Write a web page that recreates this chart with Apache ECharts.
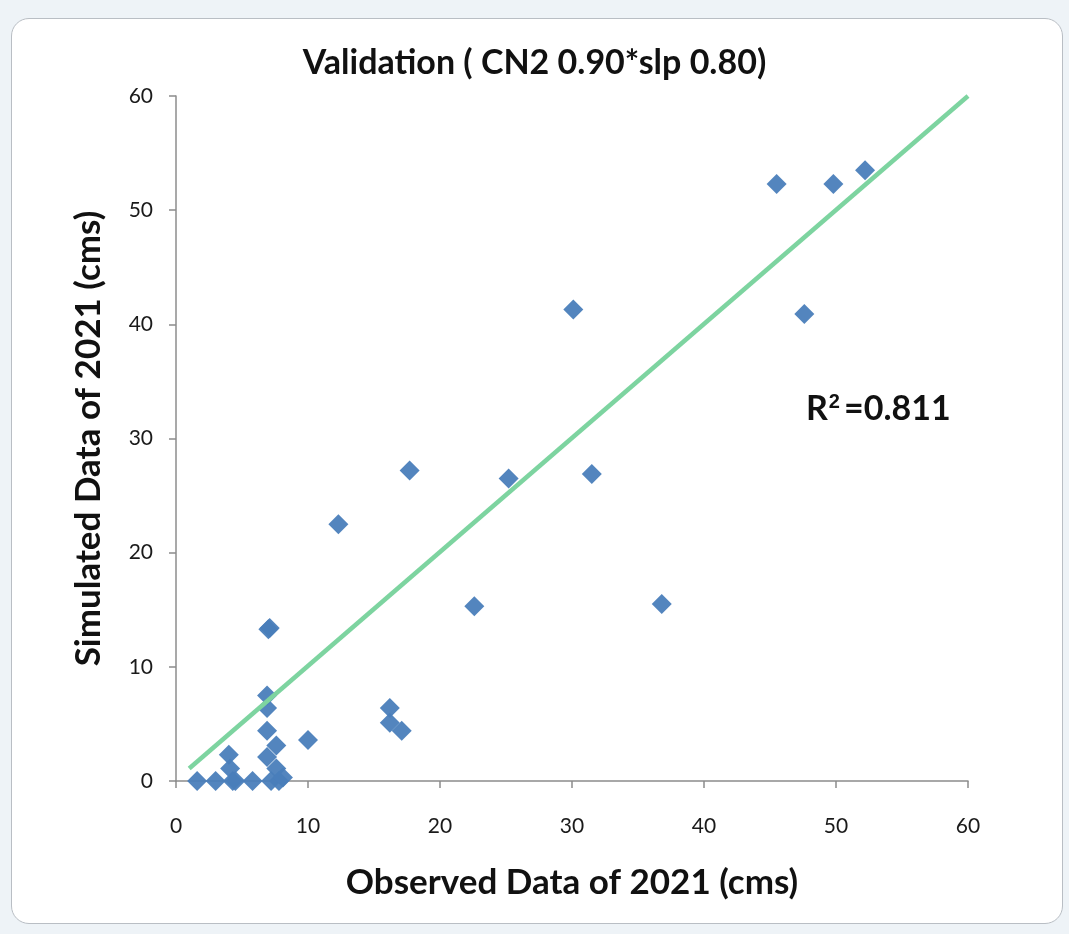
<!DOCTYPE html>
<html lang="en">
<head>
<meta charset="utf-8">
<script src="https://cdn.jsdelivr.net/npm/echarts@6/dist/echarts.min.js"></script>
<style type="text/css">
	html, body {
		margin: 0;
		padding: 0;
		background: #eef3f7;
	}
	/* rounded chart frame like the spreadsheet chart object */
	.frame {
		position: absolute;
		left: 11px;
		top: 18px;
		width: 1050px;
		height: 904px;
		background: #fff;
		border: 1px solid #b9bec4;
		border-radius: 18px;
	}
	#chart {
		position: absolute;
		left: 0;
		top: 0;
		width: 1069px;
		height: 934px;
	}
</style>
</head>
<body>
	<div class="frame"></div>
	<div id="chart"></div>

<script type="text/javascript">
	// observed (x) and simulated (y) values, cms
	var observed = [1.6, 3.0, 4.0, 4.1, 4.5, 4.3, 5.8, 6.9, 6.9, 6.9, 7.6, 6.9, 7.6, 7.2, 7.8, 8.1,
		7.1, 7.0, 10.0, 12.3, 16.2, 16.2, 17.1, 17.7, 22.6, 25.2, 30.1, 31.5, 36.8, 45.5, 47.6, 49.8, 52.2];
	var simulated = [0, 0, 2.3, 1.1, 0, 0, 0, 7.5, 6.4, 4.4, 3.1, 2.1, 1.1, 0, 0, 0.3,
		13.4, 13.3, 3.6, 22.5, 6.4, 5.1, 4.4, 27.2, 15.3, 26.5, 41.3, 26.9, 15.5, 52.3, 40.9, 52.3, 53.5];
	// trend line end points
	var trendX = [1.0, 60];
	var trendY = [1.1, 60];
	var rSquared = '0.811';

	var points = observed.map(function (x, i) { return [x, simulated[i]]; });
	var trend = trendX.map(function (x, i) { return [x, trendY[i]]; });

	var fontFam = 'Lato, "Open Sans", "Liberation Sans", sans-serif';
	var chart = echarts.init(document.getElementById('chart'));

	chart.setOption({
		animation: false,
		textStyle: { fontFamily: fontFam },
		title: {
			text: 'Validation ( CN2 0.90*slp 0.80)',
			left: 'center',
			top: 41,
			textStyle: { fontSize: 34, fontWeight: 'bold', color: '#111', fontFamily: fontFam }
		},
		grid: { left: 176, right: 101, top: 96, bottom: 153 },
		xAxis: {
			type: 'value',
			min: 0, max: 60, interval: 10,
			name: 'Observed Data of 2021 (cms)',
			nameLocation: 'middle',
			nameGap: 84,
			nameTextStyle: { fontSize: 35, fontWeight: 'bold', color: '#111', fontFamily: fontFam },
			axisLine: { lineStyle: { color: '#8c8c8c', width: 1.5 } },
			axisTick: { show: true, length: 7, lineStyle: { color: '#8c8c8c', width: 1.5 } },
			axisLabel: { fontSize: 21, color: '#1a1a1a', margin: 35 },
			splitLine: { show: false }
		},
		yAxis: {
			type: 'value',
			min: 0, max: 60, interval: 10,
			name: 'Simulated Data of 2021 (cms)',
			nameLocation: 'middle',
			nameGap: 70,
			nameTextStyle: { fontSize: 35, fontWeight: 'bold', color: '#111', fontFamily: fontFam },
			axisLine: { show: true, lineStyle: { color: '#8c8c8c', width: 1.5 } },
			axisTick: { show: true, length: 7, lineStyle: { color: '#8c8c8c', width: 1.5 } },
			axisLabel: { fontSize: 21, color: '#1a1a1a', margin: 23 },
			splitLine: { show: false }
		},
		graphic: [{
			type: 'text',
			left: 806,
			top: 392,
			style: {
				text: 'R{sup|2}=' + rSquared,
				rich: {
					sup: { fontSize: 20, fontWeight: 'bold', verticalAlign: 'top', padding: [0, 4, 12, 1] }
				},
				fontSize: 34,
				fontWeight: 'bold',
				fill: '#111',
				fontFamily: fontFam
			}
		}],
		series: [{
			type: 'line',
			data: trend,
			symbol: 'none',
			lineStyle: { color: '#7dd4a0', width: 4.5 },
			z: 3
		}, {
			type: 'scatter',
			data: points,
			symbol: 'diamond',
			symbolSize: [20, 20],
			itemStyle: { color: '#4a7ebb', opacity: 0.95 },
			z: 2
		}]
	});
</script>
</body>
</html>
